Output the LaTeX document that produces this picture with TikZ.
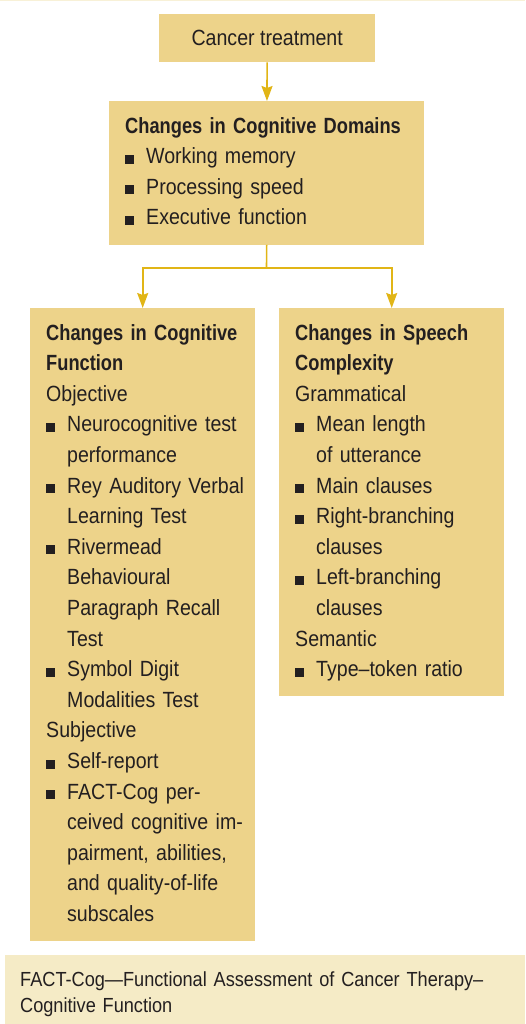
\documentclass[tikz,border=0pt]{standalone}
\usepackage{fontspec}
\setmainfont{Liberation Sans}[FakeStretch=0.89, BoldFeatures={FakeStretch=0.83}]
\definecolor{boxtan}{HTML}{EDD38A}
\definecolor{notecream}{HTML}{F5EBC6}
\definecolor{arrgold}{HTML}{E1B516}
\definecolor{inkdark}{HTML}{231F20}
\usetikzlibrary{arrows.meta,positioning}

\newcommand{\sq}{\makebox[21pt][l]{\rule{9pt}{9pt}}}
\newcommand{\gap}{\hspace*{21pt}}

\begin{document}
\begin{tikzpicture}[x=1pt, y=-1pt,
    every node/.style={text=inkdark},
    box/.style={fill=boxtan, anchor=north west, inner xsep=16pt, inner ysep=10.5pt,
                align=left, font=\fontsize{22}{30.6}\selectfont},
    topbox/.style={fill=boxtan, anchor=north west, inner sep=0pt,
                   minimum width=216pt, minimum height=48pt,
                   font=\fontsize{22}{25}\selectfont},
    note/.style={fill=notecream, anchor=north west, inner xsep=15pt, inner ysep=0pt,
                 minimum width=520pt, minimum height=78pt, text width=490pt,
                 align=left, font=\fontsize{20.4}{25.5}\selectfont},
    link/.style={draw=arrgold, line width=1.6pt},
    arr/.style={link, -{Stealth[inset=2pt, width=11pt, length=15pt]}}
  ]
    \useasboundingbox (0,0) rectangle (525,1024);
    \fill[notecream!70] (0,0) rectangle (525,1.5);

    \node[topbox] (treat) at (159,14) {Cancer treatment};
    \node[box, text width=283pt] (domains) at (109,101)
      {\begin{tabular}{@{}l@{}}
       \textbf{Changes in Cognitive Domains}\\
       \sq Working memory\\
       \sq Processing speed\\
       \sq Executive function
       \end{tabular}};

    \node[box, text width=193pt] (cogfun) at (30,308)
      {\begin{tabular}{@{}l@{}}
       \textbf{Changes in Cognitive}\\
       \textbf{Function}\\
       Objective\\
       \sq Neurocognitive test\\
       \gap performance\\
       \sq Rey Auditory Verbal\\
       \gap Learning Test\\
       \sq Rivermead\\
       \gap Behavioural\\
       \gap Paragraph Recall\\
       \gap Test\\
       \sq Symbol Digit\\
       \gap Modalities Test\\
       Subjective\\
       \sq Self-report\\
       \sq FACT-Cog per-\\
       \gap ceived cognitive im-\\
       \gap pairment, abilities,\\
       \gap and quality-of-life\\
       \gap subscales
       \end{tabular}};

    \node[box, text width=193pt] (speech) at (279,308)
      {\begin{tabular}{@{}l@{}}
       \textbf{Changes in Speech}\\
       \textbf{Complexity}\\
       Grammatical\\
       \sq Mean length\\
       \gap of utterance\\
       \sq Main clauses\\
       \sq Right-branching\\
       \gap clauses\\
       \sq Left-branching\\
       \gap clauses\\
       Semantic\\
       \sq Type–token ratio
       \end{tabular}};

    \node[note] (abbr) at (5,955)
      {FACT-Cog—Functional Assessment of Cancer Therapy–\\
       Cognitive Function};

    % connectors
    \coordinate (split) at (266.5,268);
    \draw[arr]  (treat) -- (domains);
    \draw[link] (domains.south) -- (split);
    \draw[arr]  (split) -| (cogfun.north);
    \draw[arr]  (split) -| (speech.north);
  \end{tikzpicture}
\end{document}
